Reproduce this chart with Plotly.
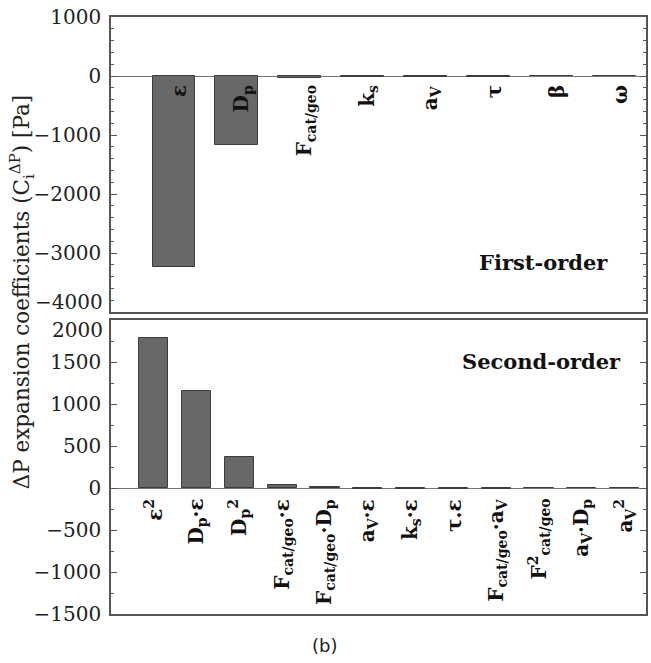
import plotly.graph_objects as go

# ---- data ----
first_labels = ["<b>ε</b>", "<b>D<sub>p</sub></b>", "<b>F<sub>cat/geo</sub></b>", "<b>k<sub>s</sub></b>",
                "<b>a<sub>V</sub></b>", "<b>τ</b>", "<b>β</b>", "<b>ω</b>"]
first_values = [-3230, -1170, -30, -14, -12, -10, -3, -2]

second_labels = ["<b>ε<sup>2</sup></b>", "<b>D<sub>p</sub>·ε</b>", "<b>D<sub>p</sub><sup>2</sup></b>",
                 "<b>F<sub>cat/geo</sub>·ε</b>", "<b>F<sub>cat/geo</sub>·D<sub>p</sub></b>",
                 "<b>a<sub>V</sub>·ε</b>", "<b>k<sub>s</sub>·ε</b>", "<b>τ.ε</b>",
                 "<b>F<sub>cat/geo</sub>·a<sub>V</sub></b>", "<b>F<sup>2</sup><sub>cat/geo</sub></b>",
                 "<b>a<sub>V</sub>·D<sub>p</sub></b>", "<b>a<sub>V</sub><sup>2</sup></b>"]
second_values = [1780, 1155, 373, 30, 10, -8, -8, -8, -6, -4, -3, -2]

first_ticks = [1000, 0, -1000, -2000, -3000, -4000]
second_ticks = [2000, 1500, 1000, 500, 0, -500, -1000, -1500]

W, H = 651, 663
L, R, T, B = 111, 648, 17, 614

def px(x):
    return (x - L) / (R - L)

def py(y):
    return (B - y) / (B - T)

def fmt(v):
    return ("−" + str(abs(v))) if v < 0 else str(v)

SERIF = "DejaVu Serif"
bar_fill = "#686868"
bar_edge = "#3c3c3c"
frame = "#555555"

fig = go.Figure()
fig.add_trace(go.Bar(x=list(range(len(first_values))), y=first_values, width=0.68,
                     marker=dict(color=bar_fill, line=dict(color=bar_edge, width=1)),
                     xaxis="x", yaxis="y", showlegend=False))
fig.add_trace(go.Bar(x=list(range(len(second_values))), y=second_values, width=0.68,
                     marker=dict(color=bar_fill, line=dict(color=bar_edge, width=1)),
                     xaxis="x2", yaxis="y2", showlegend=False))

xaxis_common = dict(showline=True, mirror=True, linecolor=frame, linewidth=1.5, showgrid=False)
yaxis_common = dict(showline=True, mirror="ticks", linecolor=frame, linewidth=1.5, showgrid=False)
TICK_SIZE = 20
yfont = dict(family=SERIF, size=TICK_SIZE, color="#222222")

# edge labels (-4000 of top panel, 2000 of bottom panel) are drawn shifted, as in the reference
top_text = [fmt(v) if v != first_ticks[-1] else "" for v in first_ticks]
bot_text = [fmt(v) if v != second_ticks[0] else "" for v in second_ticks]

fig.update_layout(
    width=W, height=H,
    margin=dict(l=L, r=W - R, t=T, b=H - B),
    plot_bgcolor="white", paper_bgcolor="white",
    bargap=0,
    xaxis=dict(domain=[0, 1], range=[-1, 7.5], anchor="y", showticklabels=False, ticks="",
               zeroline=False, **xaxis_common),
    yaxis=dict(domain=[py(312), 1], range=[-4000, 1000], tickvals=first_ticks,
               ticktext=top_text,
               ticks="inside", ticklen=6, tickcolor=frame, tickfont=yfont, ticklabelstandoff=4,
               minor=dict(dtick=200, ticks="inside", ticklen=3, tickcolor=frame),
               zeroline=True, zerolinecolor="#777777", zerolinewidth=1.2, **yaxis_common),
    xaxis2=dict(domain=[0, 1], range=[-1, 11.5], anchor="y2", showticklabels=False, ticks="",
                zeroline=False, **xaxis_common),
    yaxis2=dict(domain=[0, py(320)], range=[-1500, 2000], tickvals=second_ticks,
                ticktext=bot_text,
                ticks="inside", ticklen=6, tickcolor=frame, tickfont=yfont, ticklabelstandoff=4,
                minor=dict(dtick=250, ticks="inside", ticklen=3, tickcolor=frame),
                zeroline=True, zerolinecolor="#777777", zerolinewidth=1.2, **yaxis_common),
)

fig.add_annotation(x=0, y=first_ticks[-1], xref="paper", yref="y", text=fmt(first_ticks[-1]),
                   showarrow=False, xanchor="right", yanchor="bottom", xshift=-6, yshift=-4,
                   font=yfont)
fig.add_annotation(x=0, y=second_ticks[0], xref="paper", yref="y2", text=fmt(second_ticks[0]),
                   showarrow=False, xanchor="right", yanchor="top", xshift=-6, yshift=4,
                   font=yfont)

lab_font = dict(family=SERIF, size=20, color="#111111")
for i, lab in enumerate(first_labels):
    fig.add_annotation(x=i + 0.08, y=0, xref="x", yref="y", text=lab, textangle=-90,
                       showarrow=False, xanchor="center", yanchor="top", yshift=-7,
                       font=lab_font)
for i, lab in enumerate(second_labels):
    fig.add_annotation(x=i, y=0, xref="x2", yref="y2", text=lab, textangle=-90,
                       showarrow=False, xanchor="center", yanchor="top", yshift=-9,
                       font=lab_font)

fig.add_annotation(x=px(545), y=py(262), xref="paper", yref="paper", text="<b>First-order</b>",
                   showarrow=False, xanchor="center", yanchor="middle",
                   font=dict(family=SERIF, size=21, color="#111111"))
fig.add_annotation(x=px(543), y=py(361), xref="paper", yref="paper", text="<b>Second-order</b>",
                   showarrow=False, xanchor="center", yanchor="middle",
                   font=dict(family=SERIF, size=21, color="#111111"))
fig.add_annotation(x=px(22), y=py(292), xref="paper", yref="paper",
                   text="ΔP expansion coefficients (C<sub>i</sub><sup>ΔP</sup>) [Pa]",
                   textangle=-90, showarrow=False, xanchor="center", yanchor="middle",
                   font=dict(family=SERIF, size=21.5, color="#222222"))
fig.add_annotation(x=px(325), y=py(645), xref="paper", yref="paper", text="(b)",
                   showarrow=False, xanchor="center", yanchor="middle",
                   font=dict(family="DejaVu Sans", size=18, color="#222222"))

fig.write_html("out.html")
